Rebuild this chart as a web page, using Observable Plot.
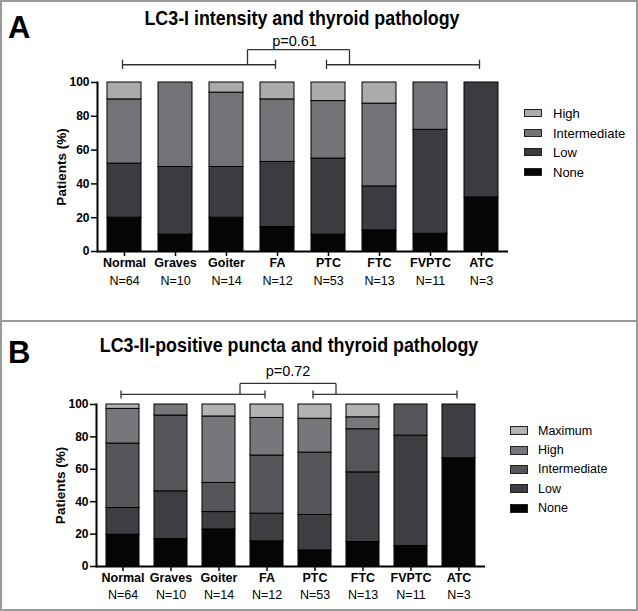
<!DOCTYPE html>
<html><head><meta charset="utf-8">
<script src="https://cdn.jsdelivr.net/npm/d3@7"></script>
<script src="https://cdn.jsdelivr.net/npm/@observablehq/plot@0.6"></script>
<style>
body{margin:0;background:#fff;font-family:"Liberation Sans",Arial,sans-serif;}
#page{position:relative;width:638px;height:611px;overflow:hidden;background:#fff;}
.plotbox{position:absolute;left:0;}
.border{position:absolute;box-sizing:border-box;border:2px solid #9a9a9a;pointer-events:none;}
.title{position:absolute;font-family:"Liberation Sans",Arial,sans-serif;font-weight:bold;font-size:20.5px;white-space:nowrap;transform:translate(-50%,-50%) scaleX(0.87);transform-origin:50% 50%;}
.letter{position:absolute;font-family:"Liberation Sans",Arial,sans-serif;font-weight:bold;font-size:31px;line-height:1;}
.legend{position:absolute;font-family:"Liberation Sans",Arial,sans-serif;font-size:13px;}
.legend .sw{position:absolute;box-sizing:border-box;border:1px solid #222;}
.legend .lb{position:absolute;transform:translateY(-50%);white-space:nowrap;}
</style>
</head><body>
<div id="page"></div>
<script>
// ---- data ----
const categories = ["Normal","Graves","Goiter","FA","PTC","FTC","FVPTC","ATC"];
const nLabels = ["N=64","N=10","N=14","N=12","N=53","N=13","N=11","N=3"];
const yTicks = [0,20,40,60,80,100];

// Panel A: LC3-I intensity (segment heights, % of patients)
const levelsA = ["None","Low","Intermediate","High"];
const colorsA = ["#050505","#3c3c40","#737377","#ababab"];
const aNone         = [20, 10, 20, 14.5, 10, 12.5, 10.5, 32];
const aLow          = [32, 40, 30, 38.5, 45, 26,   61.5, 68];
const aIntermediate = [38, 50, 44, 37,   34, 49,   28,   0];
const aHigh         = [10, 0,  6,  10,   11, 12.5, 0,    0];
const titleA = "LC3-I intensity and thyroid pathology";
const pA = "p=0.61";

// Panel B: LC3-II-positive puncta
const levelsB = ["None","Low","Intermediate","High","Maximum"];
const colorsB = ["#050505","#3e3e42","#56565a","#77777b","#b2b2b2"];
const bNone         = [19.6, 16.9, 22.9, 15.5, 9.9,  15.1, 12.6, 66.8];
const bLow          = [16.5, 29.5, 10.7, 17.1, 21.9, 43.0, 68.2, 33.2];
const bIntermediate = [39.8, 46.8, 18.0, 35.9, 38.5, 26.6, 19.2, 0];
const bHigh         = [21.4, 6.8,  41.0, 23.2, 20.9, 7.4,  0,    0];
const bMaximum      = [2.7,  0,    7.4,  8.3,  8.8,  7.9,  0,    0];
const titleB = "LC3-II-positive puncta and thyroid pathology";
const pB = "p=0.72";

const groups = [{x1:"Normal", x2:"FA"}, {x1:"PTC", x2:"ATC"}];

// ---- helpers ----
function rows(levels, series){
  const out = [];
  categories.forEach((c,i)=>levels.forEach((l,j)=>{ if(series[j][i]>0) out.push({cat:c, level:l, value:series[j][i]}); }));
  return out;
}
const nMap = new Map(categories.map((c,i)=>[c,nLabels[i]]));
const fontFam = "Liberation Sans, Arial, sans-serif";

function panel(opts){
  const {levels, colors, series, height, mL, mR, mT, mB, pi, po, br, pText, pDx, nPad} = opts;
  const ends = groups.flatMap(g=>[g.x1,g.x2]);
  return Plot.plot({
    width:638, height, marginLeft:mL, marginRight:mR, marginTop:mT, marginBottom:mB,
    style:{fontFamily:fontFam, background:"transparent", overflow:"visible"},
    x:{domain:categories, paddingInner:pi, paddingOuter:po, label:null},
    y:{domain:[0,100], label:null},
    color:{domain:levels, range:colors},
    marks:[
      Plot.barY(rows(levels, series), {x:"cat", y:"value", fill:"level", order:levels, stroke:"#000", strokeWidth:1}),
      Plot.axisY({ticks:yTicks, tickSize:6, tickPadding:2, fontWeight:"bold", fontSize:12, strokeWidth:1.5, label:null}),
      Plot.axisX({tickSize:5, tickPadding:2, fontWeight:"bold", fontSize:12.5, strokeWidth:1.5, label:null}),
      Plot.axisX({tickSize:0, tickPadding:nPad, tickFormat:d=>nMap.get(d), fontSize:12.5, label:null}),
      Plot.ruleY([0], {strokeWidth:2}),
      Plot.frame({anchor:"left", strokeWidth:2}),
      Plot.text(["Patients (%)"], {frameAnchor:"left", rotate:-90, dx:-36, textAnchor:"middle", fontWeight:"bold", fontSize:13.5}),
      // brackets
      Plot.link(groups, {x1:"x1", x2:"x2", y1:br.line, y2:br.line, dx:-2, stroke:"#333", strokeWidth:1.3}),
      Plot.link(ends, {x1:d=>d, x2:d=>d, y1:br.t1, y2:br.t2, dx:-2, stroke:"#333", strokeWidth:1.3}),
      Plot.link(["Goiter","PTC"], {x1:d=>d, x2:d=>d, y1:br.line, y2:br.top, dx:21, stroke:"#333", strokeWidth:1.3}),
      Plot.link([{a:"Goiter", b:"PTC"}], {x1:"a", x2:"b", y1:br.top, y2:br.top, dx:21, stroke:"#333", strokeWidth:1.3}),
      Plot.text([pText], {x:()=>"FA", y:br.text, dx:pDx, fontSize:14.5, lineAnchor:"middle"})
    ]
  });
}

const page = document.getElementById("page");

function addPanel(top, h, title, titleX, titleY, letter, letterY, chart, legendLevels, legendColors, lg){
  const box = document.createElement("div");
  box.className = "plotbox"; box.style.top = top+"px";
  box.appendChild(chart); page.appendChild(box);
  const t = document.createElement("div");
  t.className="title"; t.textContent=title; t.style.left=titleX+"px"; t.style.top=titleY+"px";
  page.appendChild(t);
  const L = document.createElement("div");
  L.className="letter"; L.textContent=letter; L.style.left="8px"; L.style.top=letterY+"px";
  page.appendChild(L);
  const leg = document.createElement("div");
  leg.className="legend"; leg.style.left=lg.x+"px"; leg.style.top=lg.y+"px"; leg.style.fontSize=lg.fs+"px";
  const order = legendLevels.map((l,i)=>({l, c:legendColors[i]})).reverse();
  order.forEach((o,i)=>{
    const cy = i*lg.step;
    const sw = document.createElement("div"); sw.className="sw";
    sw.style.left="0px"; sw.style.top=(cy-lg.sh/2)+"px"; sw.style.width=lg.sw+"px"; sw.style.height=lg.sh+"px"; sw.style.background=o.c;
    const lb = document.createElement("div"); lb.className="lb"; lb.textContent=o.l;
    lb.style.left=lg.tx+"px"; lb.style.top=cy+"px";
    leg.appendChild(sw); leg.appendChild(lb);
  });
  page.appendChild(leg);
  const b = document.createElement("div"); b.className="border";
  b.style.left="0px"; b.style.top=top+"px"; b.style.width="638px"; b.style.height=h+"px";
  page.appendChild(b);
}

const chartA = panel({levels:levelsA, colors:colorsA, series:[aNone,aLow,aIntermediate,aHigh],
  height:321, mL:97, mR:130, mT:82, mB:70, pi:0.34, po:0.167,
  br:{line:110.5, t1:108, t2:113.5, top:119.4, text:124.6}, pText:pA, pDx:17, nPad:25});
addPanel(0, 322, titleA, 302, 18, "A", 12, chartA, levelsA, colorsA,
  {x:524, y:112.7, step:19.9, sw:18, sh:8, tx:29, fs:13});

const chartB = panel({levels:levelsB, colors:colorsB, series:[bNone,bLow,bIntermediate,bHigh,bMaximum],
  height:290, mL:96, mR:153, mT:84, mB:44, pi:0.32, po:0.16,
  br:{line:106.2, t1:103.7, t2:108.7, top:113, text:120.4}, pText:pB, pDx:21, nPad:24});
addPanel(320, 291, titleB, 289, 345, "B", 337, chartB, levelsB, colorsB,
  {x:510, y:430.7, step:19.4, sw:18, sh:9, tx:28, fs:12.5});
</script>
</body></html>
